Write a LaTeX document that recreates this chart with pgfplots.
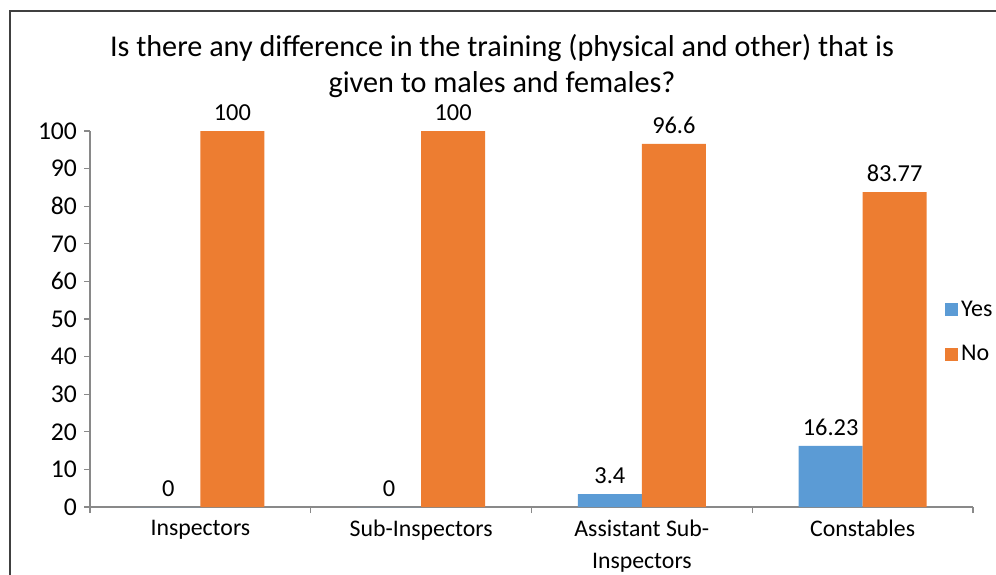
\documentclass[border=0pt]{standalone}
\usepackage{pgfplots}
\pgfplotsset{compat=1.18}
\usepackage{fontspec}
\setmainfont{Carlito}
\definecolor{yesblue}{HTML}{5B9BD5}
\definecolor{noorange}{HTML}{ED7D31}
\definecolor{axisgray}{HTML}{898989}
\begin{document}
\begin{tikzpicture}
    \path[use as bounding box] (0,0) rectangle (498pt,287pt);
    % chart frame (cut at right and bottom)
    \draw[color=black!75, line width=0.8pt] (5pt,-2pt) -- (5pt,281.5pt) -- (500pt,281.5pt);
    % title
    \node[anchor=base, font=\fontsize{15.1}{18}\selectfont, inner sep=0pt]
        at (251pt,258.5pt) {Is there any difference in the training (physical and other) that is};
    \node[anchor=base, font=\fontsize{15.1}{18}\selectfont, inner sep=0pt]
        at (251pt,240.5pt) {given to males and females?};
    \begin{axis}[
        at={(45pt,33.5pt)},
        anchor=south west,
        scale only axis,
        width=441.5pt,
        height=188pt,
        ybar=0pt,
        bar width=32pt,
        xmin=-0.5, xmax=3.5,
        ymin=0, ymax=100,
        xtick={0,1,2,3},
        xticklabels={Inspectors,Sub-Inspectors,{Assistant Sub-\\Inspectors},Constables},
        xticklabel style={align=center, font=\fontsize{11.9}{16}\selectfont},
        yticklabel style={font=\fontsize{12.8}{16}\selectfont},
        minor xtick={-0.5,0.5,1.5,2.5,3.5},
        ytick={0,10,...,100},
        axis x line*=bottom,
        axis y line*=left,
        axis line style={axisgray, line width=0.6pt, -},
        tick style={axisgray, line width=0.6pt},
        major x tick style={draw=none},
        tick align=outside,
        major tick length=3pt,
        minor tick length=3pt,
        tick label style={black},
        /pgf/number format/assume math mode=true,
        nodes near coords,
        every node near coord/.append style={
            font=\fontsize{12.2}{14}\selectfont,
            text=black,
            anchor=south,
            yshift=1.5pt
        },
        clip=false,
        legend style={
            at={(0.968,0.465)},
            anchor=west,
            draw=none,
            fill=none,
            inner sep=0pt,
            row sep=10pt,
            font=\fontsize{12}{14}\selectfont,
            nodes={inner sep=1.5pt}
        },
        legend cell align=left,
        legend image code/.code={
            \fill[#1] (0pt,-3.25pt) rectangle (6.5pt,3.25pt);
        }
    ]
        \addplot[fill=yesblue, draw=none] coordinates {
            (0,0) (1,0) (2,3.4) (3,16.23)
        };
        \addplot[fill=noorange, draw=none] coordinates {
            (0,100) (1,100) (2,96.6) (3,83.77)
        };
        \legend{Yes,No}
    \end{axis}
\end{tikzpicture}
\end{document}
